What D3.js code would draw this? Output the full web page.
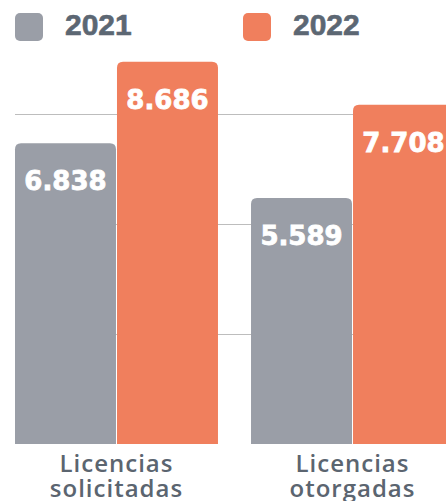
<!DOCTYPE html>
<html>
<head>
<meta charset="utf-8">
<script src="https://cdn.jsdelivr.net/npm/d3@7"></script>
<style>
  html, body { margin: 0; padding: 0; background: #fff; overflow: hidden; }
  svg { display: block; }
</style>
</head>
<body>
<svg id="chart" width="446" height="501"></svg>
<script>
// Licencias por año
const categories = ["Licencias solicitadas", "Licencias otorgadas"];
const seriesNames = ["2021", "2022"];
const values2021 = [6838, 5589];
const values2022 = [8686, 7708];
const gridTicks = [2500, 5000, 7500];
const seriesColors = ["#9a9ea7", "#f07f5d"];

const rows = categories.map((c, i) => ({
  category: c,
  values: [
    { series: seriesNames[0], value: values2021[i] },
    { series: seriesNames[1], value: values2022[i] }
  ]
}));

const svg = d3.select("#chart");
const W = 446;
const baseY = 444;

const y = d3.scaleLinear().domain([0, 10000]).range([baseY, baseY - 440]);

const x0 = d3.scaleBand().domain(categories).range([15, 454]).paddingInner(0.14).paddingOuter(0);
const x1 = d3.scaleBand().domain(seriesNames).range([0, x0.bandwidth()]).paddingInner(0.0098).paddingOuter(0);
const color = d3.scaleOrdinal().domain(seriesNames).range(seriesColors);

// gridlines
const grid = svg.append("g")
  .attr("transform", "translate(15,0)")
  .call(d3.axisLeft(y).tickValues(gridTicks).tickSize(-(W - 15)).tickFormat(""));
grid.select(".domain").remove();
grid.selectAll(".tick line").attr("stroke", "#bdbdbd").attr("stroke-width", 1);

// bars with rounded top corners
function topRounded(x, yTop, w, h, r) {
  r = Math.min(r, w / 2, h);
  return `M${x},${yTop + h}V${yTop + r}Q${x},${yTop} ${x + r},${yTop}H${x + w - r}Q${x + w},${yTop} ${x + w},${yTop + r}V${yTop + h}Z`;
}

const fmt = v => d3.format(",")(v).replace(/,/g, ".");

const groups = svg.append("g").selectAll("g")
  .data(rows).join("g")
  .attr("transform", d => `translate(${x0(d.category)},0)`);

groups.selectAll("path")
  .data(d => d.values).join("path")
  .attr("d", d => topRounded(x1(d.series), y(d.value), x1.bandwidth(), baseY - y(d.value), 6))
  .attr("fill", d => color(d.series));

groups.selectAll("text.val")
  .data(d => d.values).join("text")
  .attr("class", "val")
  .attr("x", d => x1(d.series) + x1.bandwidth() / 2)
  .attr("y", d => y(d.value) + 47)
  .attr("text-anchor", "middle")
  .attr("fill", "#fff")
  .attr("stroke", "#fff")
  .attr("stroke-width", 0.8)
  .style("font-family", "'DejaVu Sans', sans-serif")
  .style("font-weight", "bold")
  .style("font-size", "26px")
  .text(d => fmt(d.value));

// category labels
groups.append("text")
  .attr("x", x0.bandwidth() / 2)
  .attr("y", 472)
  .attr("text-anchor", "middle")
  .attr("fill", "#5b6570")
  .style("font-family", "'Open Sans', sans-serif")
  .style("font-weight", 600)
  .style("font-size", "24px")
  .style("letter-spacing", "1px")
  .selectAll("tspan")
  .data(d => d.category.split(" ")).join("tspan")
  .attr("x", x0.bandwidth() / 2)
  .attr("dy", (d, i) => i === 0 ? 0 : 25)
  .text(d => d);

// legend
const legendX = [15, 243];
const legend = svg.append("g").selectAll("g")
  .data(seriesNames).join("g")
  .attr("transform", (d, i) => `translate(${legendX[i]},13)`);
legend.append("rect")
  .attr("width", 28).attr("height", 28).attr("rx", 5)
  .attr("fill", d => color(d));
legend.append("text")
  .attr("x", 50).attr("y", 22)
  .attr("fill", "#5c6773")
  .attr("stroke", "#5c6773")
  .attr("stroke-width", 0.6)
  .style("font-family", "'Liberation Sans', sans-serif")
  .style("font-weight", "bold")
  .style("font-size", "30px")
  .text(d => d);
</script>
</body>
</html>
